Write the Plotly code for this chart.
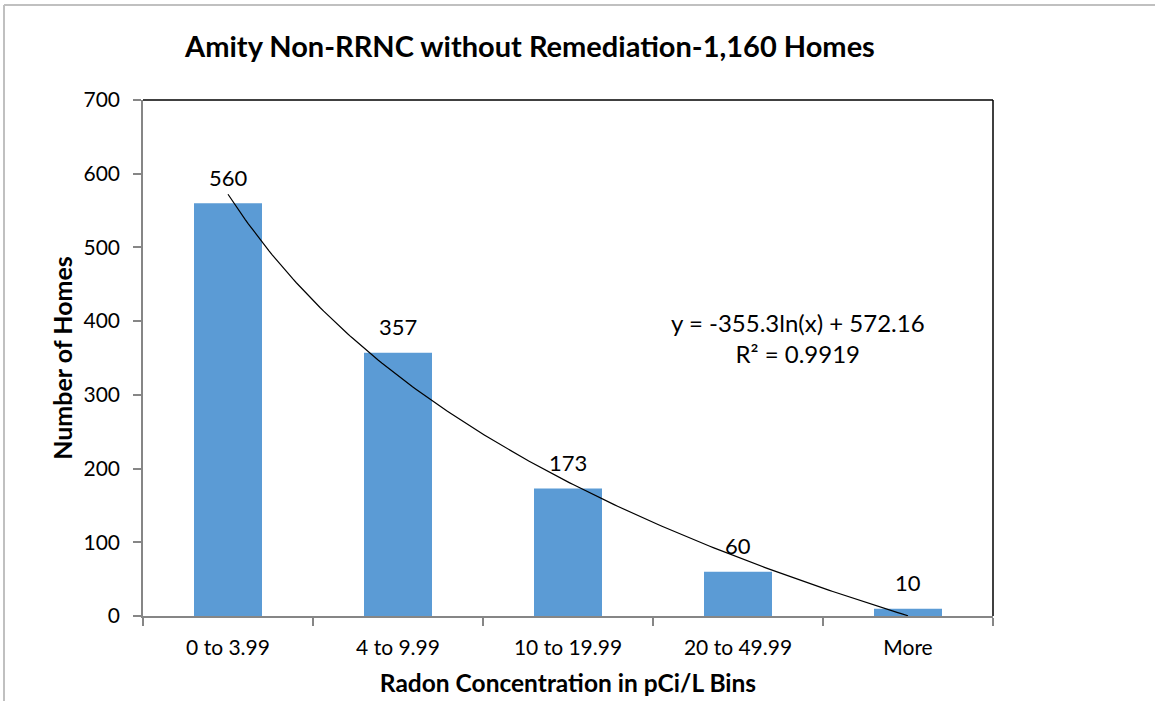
import numpy as np
import plotly.graph_objects as go

categories = ["0 to 3.99", "4 to 9.99", "10 to 19.99", "20 to 49.99", "More"]
homes = [560, 357, 173, 60, 10]
trend_a = -355.3
trend_b = 572.16
r2 = 0.9919
y_ticks = [0, 100, 200, 300, 400, 500, 600, 700]

W, H = 1155, 701
L, R, T, B = 143, 993, 100, 616
px = lambda x: (x - L) / (R - L)
py = lambda y: (B - y) / (B - T)

xpos = list(range(1, len(categories) + 1))
FONT = "Lato"

fig = go.Figure()
fig.add_trace(go.Bar(x=xpos, y=homes, width=0.4, marker=dict(color="#5B9BD5", line=dict(width=0)),
                     showlegend=False, hoverinfo="skip"))

tx = np.linspace(1, len(categories), 200)
ty = trend_a * np.log(tx) + trend_b
fig.add_trace(go.Scatter(x=tx, y=ty, mode="lines", line=dict(color="black", width=1.2),
                         showlegend=False, hoverinfo="skip"))

for x, v in zip(xpos, homes):
    fig.add_annotation(x=x, y=v, text=str(v), showarrow=False, yshift=26,
                       xanchor="center", yanchor="middle",
                       font=dict(family=FONT, size=22, color="black"))

fig.add_annotation(x=px(798), y=py(338), xref="paper", yref="paper", showarrow=False,
                   xanchor="center", yanchor="middle",
                   text=f"y = {trend_a}ln(x) + {trend_b}<br>R² = {r2}", align="center",
                   font=dict(family=FONT, size=24, color="black"))

# frame lines
fig.add_shape(type="line", xref="paper", yref="paper", x0=0, x1=1, y0=1, y1=1,
              line=dict(color="black", width=1.5))
fig.add_shape(type="line", xref="paper", yref="paper", x0=1, x1=1, y0=0, y1=1,
              line=dict(color="black", width=1.5))
# outer chart border
fig.add_shape(type="line", xref="paper", yref="paper", x0=px(4), x1=px(1160), y0=py(5), y1=py(5),
              line=dict(color="#C0C0C0", width=2))
fig.add_shape(type="line", xref="paper", yref="paper", x0=px(4), x1=px(4), y0=py(5), y1=py(705),
              line=dict(color="#C0C0C0", width=2))

fig.update_layout(
    width=W, height=H,
    margin=dict(l=L, r=W - R, t=T, b=H - B, autoexpand=False),
    paper_bgcolor="white", plot_bgcolor="white",
    font=dict(family=FONT, color="black"),
    title=dict(text="<b>Amity Non-RRNC without Remediation-1,160 Homes</b>",
               x=530 / W, y=1 - 47 / H, xanchor="center", yanchor="middle",
               font=dict(family=FONT, size=29, color="black")),
    xaxis=dict(range=[0.5, len(categories) + 0.5], tickvals=xpos, ticktext=categories,
               ticks="", showgrid=False, zeroline=False, automargin=False,
               showline=True, linecolor="#868686", linewidth=1.5,
               tickfont=dict(family=FONT, size=21, color="black"),
               ticklabelstandoff=12,
               minor=dict(tickvals=[i + 0.5 for i in range(len(categories) + 1)],
                          ticks="outside", ticklen=8, tickcolor="#868686", tickwidth=1.5),
               title=dict(text="<b>Radon Concentration in pCi/L Bins</b>", standoff=17,
                          font=dict(family=FONT, size=24.5, color="black"))),
    yaxis=dict(range=[0, 700], tickvals=y_ticks, ticks="outside", ticklen=8,
               tickcolor="#868686", tickwidth=1.5, showgrid=False, zeroline=False,
               showline=True, linecolor="#868686", linewidth=1.5, automargin=False,
               tickfont=dict(family=FONT, size=21, color="black"),
               ticklabelstandoff=9,
               title=dict(text="<b>Number of Homes</b>", standoff=4,
                          font=dict(family=FONT, size=25, color="black"))),
)

fig.write_html("out.html", config={"displayModeBar": False},
               post_script="document.body.style.margin='0';document.body.style.overflow='hidden';")
